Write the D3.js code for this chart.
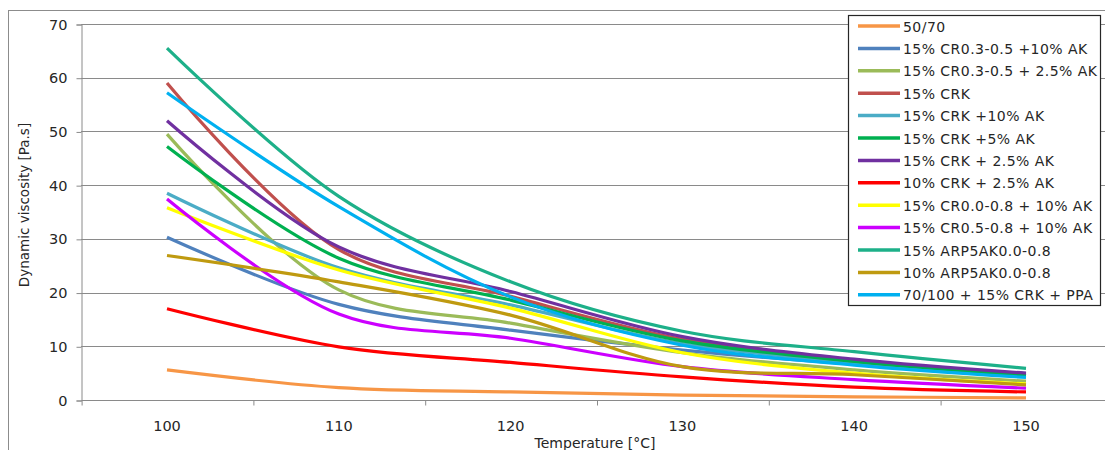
<!DOCTYPE html>
<html>
<head>
<meta charset="utf-8">
<script src="https://cdn.jsdelivr.net/npm/d3@7"></script>
<style>
  html, body { margin: 0; padding: 0; background: #fff; }
  svg { display: block; }
  text { font-family: "DejaVu Sans", Verdana, sans-serif; fill: #262626; }
</style>
</head>
<body>
<svg id="chart" width="1105" height="450"></svg>
<script>
// Measurement temperatures [°C]
const temperatures = [100, 110, 120, 130, 140, 150];

// Dynamic viscosity [Pa.s] per binder
const seriesNames = [
  "50/70",
  "15% CR0.3-0.5 +10% AK",
  "15% CR0.3-0.5 + 2.5% AK",
  "15% CRK",
  "15% CRK +10% AK",
  "15% CRK +5% AK",
  "15% CRK + 2.5% AK",
  "10% CRK + 2.5% AK",
  "15% CR0.0-0.8 + 10% AK",
  "15% CR0.5-0.8 + 10% AK",
  "15% ARP5AK0.0-0.8",
  "10% ARP5AK0.0-0.8",
  "70/100 + 15% CRK + PPA"
];
const v5070        = [5.6, 2.3, 1.5, 0.9, 0.6, 0.4];
const vCR0305AK10  = [30.3, 17.8, 13.0, 9.3, 6.7, 4.9];
const vCR0305AK25  = [49.5, 20.5, 14.3, 8.8, 5.6, 3.5];
const vCRK         = [59.0, 28.0, 19.3, 11.3, 7.3, 4.7];
const vCRKAK10     = [38.5, 24.6, 17.7, 10.5, 7.0, 4.5];
const vCRKAK5      = [47.2, 26.4, 18.6, 11.0, 7.2, 4.6];
const vCRKAK25     = [52.0, 28.5, 20.2, 11.8, 7.6, 5.0];
const v10CRKAK25   = [17.0, 9.9, 7.0, 4.3, 2.4, 1.5];
const vCR0008AK10  = [35.8, 24.2, 17.1, 8.8, 5.0, 3.0];
const vCR0508AK10  = [37.4, 16.0, 11.5, 6.2, 3.8, 2.2];
const vARP15       = [65.5, 37.9, 22.0, 12.8, 9.0, 5.9];
const vARP10       = [26.9, 22.0, 15.8, 6.2, 4.7, 2.8];
const vPPA         = [57.2, 36.0, 19.2, 10.2, 6.5, 4.2];

const seriesValues = [v5070, vCR0305AK10, vCR0305AK25, vCRK, vCRKAK10, vCRKAK5,
  vCRKAK25, v10CRKAK25, vCR0008AK10, vCR0508AK10, vARP15, vARP10, vPPA];

const seriesColors = ["#F79646", "#4F81BD", "#9BBB59", "#C0504D", "#4BACC6", "#00B050",
  "#7030A0", "#FF0000", "#FFFF00", "#CC00FF", "#1DB089", "#BF9A10", "#00B0F0"];

const yTicks = [0, 10, 20, 30, 40, 50, 60, 70];
const xLabels = [100, 110, 120, 130, 140, 150];
const xMinorTicks = [95, 105, 115, 125, 135, 145, 155];

const svg = d3.select("#chart");

const x = d3.scaleLinear().domain([95, 155]).range([81.1, 1111.9]);
const y = d3.scaleLinear().domain([0, 70]).range([400, 24]);

// chart frame
svg.append("rect")
  .attr("x", 8.5).attr("y", 10.5).attr("width", 1110).attr("height", 450)
  .attr("fill", "none").attr("stroke", "#8c8c8c").attr("stroke-width", 1);

// horizontal gridlines
svg.append("g")
  .selectAll("line")
  .data(yTicks.filter(d => d > 0))
  .join("line")
  .attr("x1", x(95)).attr("x2", x(155))
  .attr("y1", d => Math.round(y(d)) + 0.5).attr("y2", d => Math.round(y(d)) + 0.5)
  .attr("stroke", "#8a8a8a").attr("stroke-width", 1);

// y axis
const yAxis = d3.axisLeft(y).tickValues(yTicks).tickSize(5).tickPadding(9)
  .tickFormat(d3.format("d"));
svg.append("g")
  .attr("transform", `translate(${Math.round(x(95)) + 0.5},0.5)`)
  .call(yAxis)
  .call(g => g.selectAll("path, line").attr("stroke", "#8a8a8a"))
  .call(g => g.selectAll("text").style("font-size", "14.5px").attr("fill", "#404040"));

// x axis: tick marks between labelled temperatures
const xAxis = d3.axisBottom(x).tickValues(xMinorTicks).tickSize(5).tickFormat("");
svg.append("g")
  .attr("transform", `translate(0.5,${Math.round(y(0)) + 0.5})`)
  .call(xAxis)
  .call(g => g.select(".domain").attr("d", `M${x(95)},0H${x(155)}`))
  .call(g => g.selectAll("path, line").attr("stroke", "#8a8a8a"));

svg.append("g")
  .selectAll("text")
  .data(xLabels)
  .join("text")
  .attr("x", d => x(d)).attr("y", 431)
  .attr("text-anchor", "middle")
  .style("font-size", "14.5px").attr("fill", "#404040")
  .text(d => d);

// axis titles
svg.append("text")
  .attr("x", 595).attr("y", 448)
  .attr("text-anchor", "middle")
  .style("font-size", "14px")
  .text("Temperature  [°C]");

svg.append("text")
  .attr("transform", "translate(29,205) rotate(-90)")
  .attr("text-anchor", "middle")
  .style("font-size", "13.5px")
  .text("Dynamic viscosity  [Pa.s]");

// curves
const line = d3.line()
  .x((d, i) => x(temperatures[i]))
  .y(d => y(d))
  .curve(d3.curveCatmullRom.alpha(0.5));

svg.append("g")
  .selectAll("path")
  .data(seriesValues)
  .join("path")
  .attr("d", d => line(d))
  .attr("fill", "none")
  .attr("stroke", (d, i) => seriesColors[i])
  .attr("stroke-width", 3.2)
  .attr("stroke-linecap", "butt");

// legend
const lg = svg.append("g");
lg.append("rect")
  .attr("x", 848.5).attr("y", 15.5).attr("width", 252).attr("height", 290)
  .attr("fill", "#fff").attr("stroke", "#262626").attr("stroke-width", 1.2);

const rows = lg.selectAll("g.row")
  .data(seriesNames)
  .join("g")
  .attr("class", "row")
  .attr("transform", (d, i) => `translate(0,${26 + i * 22.4})`);

rows.append("line")
  .attr("x1", 858).attr("x2", 900).attr("y1", 0).attr("y2", 0)
  .attr("stroke", (d, i) => seriesColors[i]).attr("stroke-width", 3.5);

rows.append("text")
  .attr("x", 903).attr("y", 5.5)
  .style("font-size", "14px")
  .style("letter-spacing", "0.45px")
  .text(d => d);
</script>
</body>
</html>
